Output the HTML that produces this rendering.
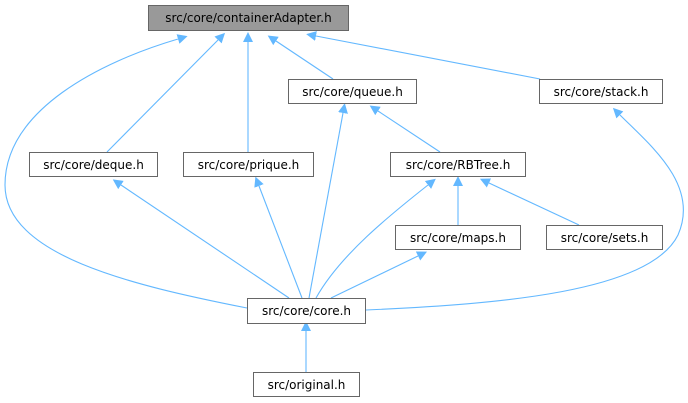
<!DOCTYPE html>
<html><head><meta charset="utf-8"><style>
html,body{margin:0;padding:0;background:#fff;width:688px;height:403px;overflow:hidden}
svg text{font-family:"DejaVu Sans","Liberation Sans",sans-serif;font-size:12px;fill:#000}
</style></head><body>
<svg width="688" height="403" viewBox="0 0 688 403" xmlns="http://www.w3.org/2000/svg">
<defs>
<marker id="a" viewBox="0 0 10 10" refX="0" refY="5" markerWidth="10" markerHeight="10" markerUnits="userSpaceOnUse" orient="auto-start-reverse">
<path d="M0,0 L10,5 L0,10 z" fill="#63b8ff"/>
</marker>
</defs>
<g fill="none" stroke="#63b8ff" stroke-width="1.1">
<path marker-end="url(#a)" d="M247,308 C130,285 5,255 5,185 C5,110 100,62 178,39"/>
<path marker-end="url(#a)" d="M107,152 L218,40"/>
<path marker-end="url(#a)" d="M248,152 L248,42"/>
<path marker-end="url(#a)" d="M333,79 L276,41"/>
<path marker-end="url(#a)" d="M540,79 L316,36"/>
<path marker-end="url(#a)" d="M309,298 L343,113"/>
<path marker-end="url(#a)" d="M440,152 L378,111"/>
<path marker-end="url(#a)" d="M366,310 C500,304 650,292 678,235 C700,185 650,145 620,115"/>
<path marker-end="url(#a)" d="M289,298 L121,185"/>
<path marker-end="url(#a)" d="M302,298 L259,186"/>
<path marker-end="url(#a)" d="M316,298 C340,255 390,215 428,185"/>
<path marker-end="url(#a)" d="M458,225 L458,186"/>
<path marker-end="url(#a)" d="M579,225 L489,183"/>
<path marker-end="url(#a)" d="M331,298 L418,256"/>
<path marker-end="url(#a)" d="M306,372 L306,331"/>
</g>
<g stroke="#666" stroke-width="1">
<rect x="148.5" y="5.5" width="200" height="25" fill="#999"/>
<rect x="288.5" y="79.5" width="128" height="24" fill="#fff"/>
<rect x="539.5" y="79.5" width="123" height="24" fill="#fff"/>
<rect x="29.5" y="152.5" width="128" height="24" fill="#fff"/>
<rect x="183.5" y="152.5" width="130" height="24" fill="#fff"/>
<rect x="390.5" y="152.5" width="135" height="24" fill="#fff"/>
<rect x="395.5" y="225.5" width="125" height="24" fill="#fff"/>
<rect x="546.5" y="225.5" width="116" height="24" fill="#fff"/>
<rect x="247.5" y="298.5" width="118" height="25" fill="#fff"/>
<rect x="253.5" y="372.5" width="106" height="24" fill="#fff"/>
</g>
<g text-anchor="middle">
<text x="248.5" y="22">src/core/containerAdapter.h</text>
<text x="352.5" y="96">src/core/queue.h</text>
<text x="601" y="96">src/core/stack.h</text>
<text x="93.5" y="169">src/core/deque.h</text>
<text x="248.5" y="169">src/core/prique.h</text>
<text x="458" y="169">src/core/RBTree.h</text>
<text x="458" y="242">src/core/maps.h</text>
<text x="604.5" y="242">src/core/sets.h</text>
<text x="306.5" y="315">src/core/core.h</text>
<text x="306.5" y="389">src/original.h</text>
</g>
</svg>
</body></html>
